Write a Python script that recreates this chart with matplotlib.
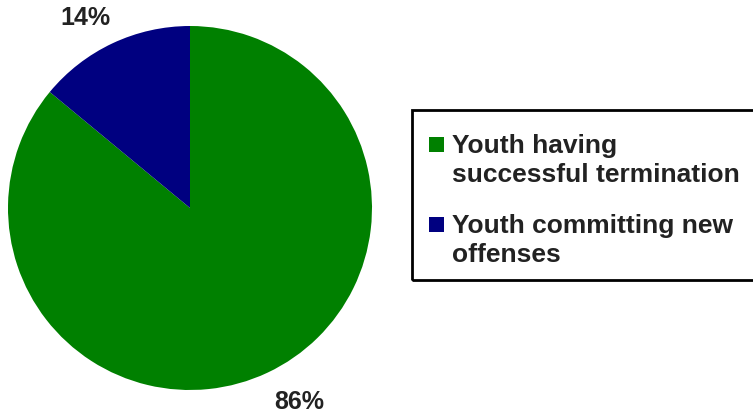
import matplotlib.pyplot as plt
from matplotlib.patches import Rectangle

plt.rcParams['font.family'] = ['Liberation Sans', 'DejaVu Sans']
plt.rcParams['font.weight'] = 'bold'

categories = ['Youth having\nsuccessful termination', 'Youth committing new\noffenses']
values = [86, 14]
pct_labels = ['86%', '14%']
colors = ['#008000', '#000080']
text_color = '#222222'

W, H = 753, 417
fig = plt.figure(figsize=(W / 100, H / 100), dpi=100)

# pie centre ~ (190, 208) px, radius ~ 182 px
cx, cy, r = 190, 208, 182
ax = fig.add_axes([(cx - r) / W, (H - cy - r) / H, 2 * r / W, 2 * r / H])
wedges, texts = ax.pie(values, labels=pct_labels, colors=colors, startangle=90,
                       counterclock=False, labeldistance=1.2,
                       textprops=dict(fontsize=18, fontweight='bold', color=text_color))
ax.set_xlim(-1, 1)
ax.set_ylim(-1, 1)
ax.set_aspect('auto')

# Excel-style label placement
texts[0].set_position((0.60, -1.065))
texts[1].set_position((-0.575, 1.045))
for t in texts:
    t.set_ha('center')
    t.set_va('center')

# legend: frame runs off the right edge like the original
fig.patches.append(Rectangle((412 / W, 1 - 280 / H), 350 / W, 170 / H,
                             transform=fig.transFigure, fill=False,
                             edgecolor='black', linewidth=2))
for i, (lab, c) in enumerate(zip(categories, colors)):
    base = 152 + i * 80  # first-line baseline, px from top
    fig.patches.append(Rectangle((429 / W, 1 - base / H), 15 / W, 15 / H,
                                 transform=fig.transFigure, facecolor=c,
                                 edgecolor='none'))
    fig.text(452 / W, 1 - (base - 18.5) / H, lab, fontsize=19, fontweight='bold',
             color=text_color, ha='left', va='top', linespacing=1.3)

fig.savefig('out.png', dpi=100)
